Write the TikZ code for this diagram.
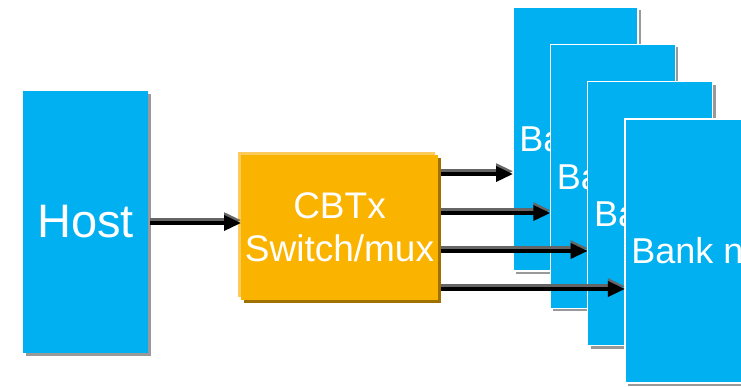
\documentclass[tikz,border=0pt]{standalone}
\usepackage{fontspec}
\setmainfont{Liberation Sans}
\usetikzlibrary{arrows.meta,shadows,calc}
\definecolor{bankblue}{HTML}{00B0F0}
\definecolor{orangemain}{HTML}{FAB400}
\definecolor{orangelight}{HTML}{FCCB5C}
\definecolor{orangedark}{HTML}{9E7100}
\tikzset{
  blockshadow/.style={drop shadow={shadow xshift=3pt,shadow yshift=-3pt,fill=black!40,opacity=1}},
  hostbox/.style={fill=bankblue, blockshadow, minimum width=125pt, minimum height=262pt,
    inner sep=0pt, outer sep=0pt, text=white, font=\fontsize{47}{56}\selectfont},
  bankbox/.style={fill=bankblue, draw=white, line width=1.5pt, blockshadow,
    minimum width=125pt, minimum height=264pt, inner sep=0pt, outer sep=0pt,
    text=white, font=\fontsize{36}{42}\selectfont},
  muxbox/.style={fill=orangemain,
    drop shadow={shadow xshift=3pt,shadow yshift=-3pt,fill=orangedark,opacity=1},
    drop shadow={shadow xshift=-3pt,shadow yshift=3pt,fill=orangelight,opacity=1},
    minimum width=197pt, minimum height=145pt, inner sep=0pt, outer sep=0pt,
    text=white, align=center, font=\fontsize{37}{43}\selectfont},
  bus/.style={line width=3.5pt, -{Triangle[length=17pt,width=15pt]},
    preaction={draw=black!60, line width=3.5pt, -{Triangle[length=17pt,width=15pt]},
      transform canvas={yshift=2.8pt}}},
}
\begin{document}
\begin{tikzpicture}[x=1pt,y=-1pt]
\clip (0,0) rectangle (741,387);
\fill[white] (0,0) rectangle (741,387);
\node[hostbox] (host) at (85.5,222) {Host};
\node[muxbox] (mux) at (339.5,227.5) {CBTx\\Switch/mux};
\node[bankbox] (b1) at (575.5,139) {Bank 1};
\node[bankbox] (b2) at (612.8,176.3) {Bank 2};
\node[bankbox] (b3) at (650.1,213.6) {Bank 3};
\node[bankbox] (b4) at (687.4,250.9) {Bank n};
\coordinate (h0) at (150,223);
\coordinate (m1) at (441,174);
\coordinate (m2) at (441,213);
\coordinate (m3) at (441,251);
\coordinate (m4) at (441,289);
\draw[bus] (h0) -- (h0 -| mux.west);
\draw[bus] (m1) -- (m1 -| b1.west);
\draw[bus] (m2) -- (m2 -| b2.west);
\draw[bus] (m3) -- (m3 -| b3.west);
\draw[bus] (m4) -- (m4 -| b4.west);
\end{tikzpicture}
\end{document}
